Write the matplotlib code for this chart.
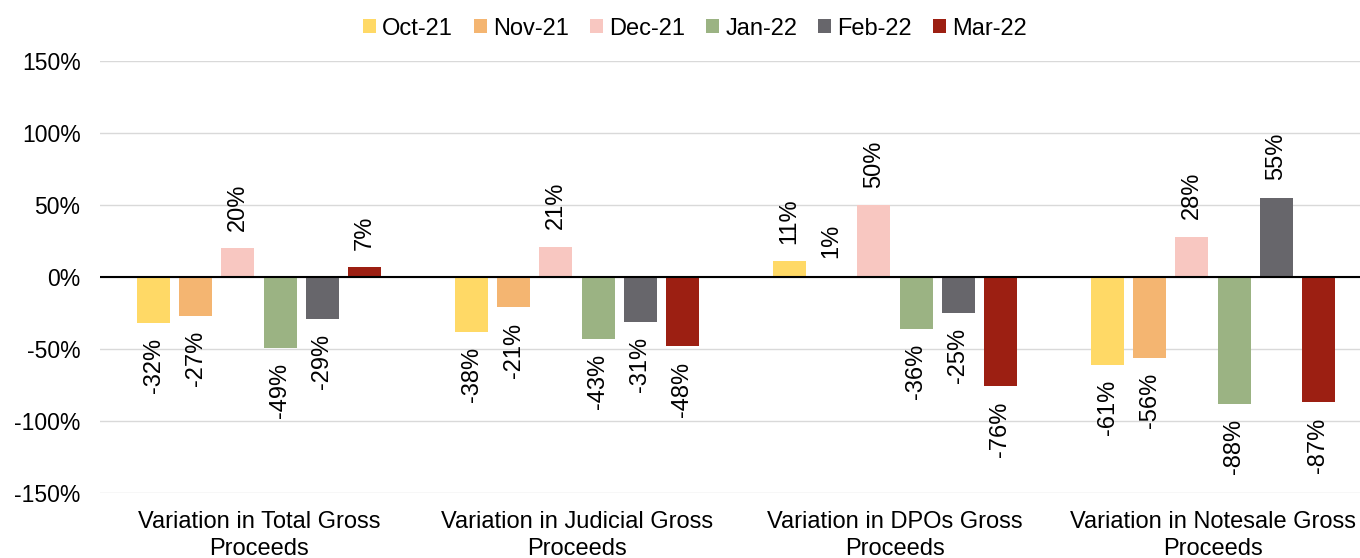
import numpy as np
import matplotlib
matplotlib.use("Agg")
import matplotlib.pyplot as plt
from matplotlib.ticker import FuncFormatter

plt.rcParams['font.family'] = ['Liberation Sans', 'DejaVu Sans']

categories = ["Variation in Total Gross\nProceeds",
              "Variation in Judicial Gross\nProceeds",
              "Variation in DPOs Gross\nProceeds",
              "Variation in Notesale Gross\nProceeds"]
months = ["Oct-21", "Nov-21", "Dec-21", "Jan-22", "Feb-22", "Mar-22"]
oct21 = [-32, -38, 11, -61]
nov21 = [-27, -21, 1, -56]
dec21 = [20, 21, 50, 28]
jan22 = [-49, -43, -36, -88]
feb22 = [-29, -31, -25, 55]
mar22 = [7, -48, -76, -87]
series = [oct21, nov21, dec21, jan22, feb22, mar22]
colors = ["#FFD966", "#F4B571", "#F8C7C1", "#9BB383", "#67666B", "#9C1F12"]

fig = plt.figure(figsize=(13.6, 5.58), dpi=100)
ax = fig.add_axes([100/1360, 1 - 493/558, 1260/1360, 432/558])

x = np.arange(len(categories))
step = 0.1327
width = 0.104
for i, (vals, col, lab) in enumerate(zip(series, colors, months)):
    pos = x + (i - 2.5) * step
    bars = ax.bar(pos, vals, width, color=col, label=lab, zorder=3)
    for b, v in zip(bars, vals):
        off = 12.5 if v >= 0 else -11
        ax.annotate(f"{v}%", (b.get_x() + b.get_width() / 2, v),
                    xytext=(0, off), textcoords="offset points",
                    rotation=90, ha="center",
                    va="bottom" if v >= 0 else "top", fontsize=17)

ax.set_ylim(-150, 150)
ax.set_yticks(np.arange(-150, 151, 50))
ax.yaxis.set_major_formatter(FuncFormatter(lambda v, p: f"{v:.0f}%"))
ax.set_xlim(-0.5, -0.5 + 1260/318)
ax.set_xticks(x)
ax.set_xticklabels(categories, fontsize=17, linespacing=1.3)
ax.tick_params(axis='y', labelsize=16.5, length=0, pad=14)
ax.tick_params(axis='x', length=0, pad=13)
ax.grid(axis='y', color="#D9D9D9", linewidth=1, zorder=0)
ax.axhline(0, color="black", linewidth=1.5, zorder=4)
for s in ax.spines.values():
    s.set_visible(False)

fig.legend(loc="upper center", bbox_to_anchor=(0.511, 1.0), ncol=6, frameon=False,
           fontsize=17, handlelength=0.55, handleheight=0.55, handletextpad=0.25,
           columnspacing=0.9, borderaxespad=0.35)

fig.savefig("out.png", dpi=100)
